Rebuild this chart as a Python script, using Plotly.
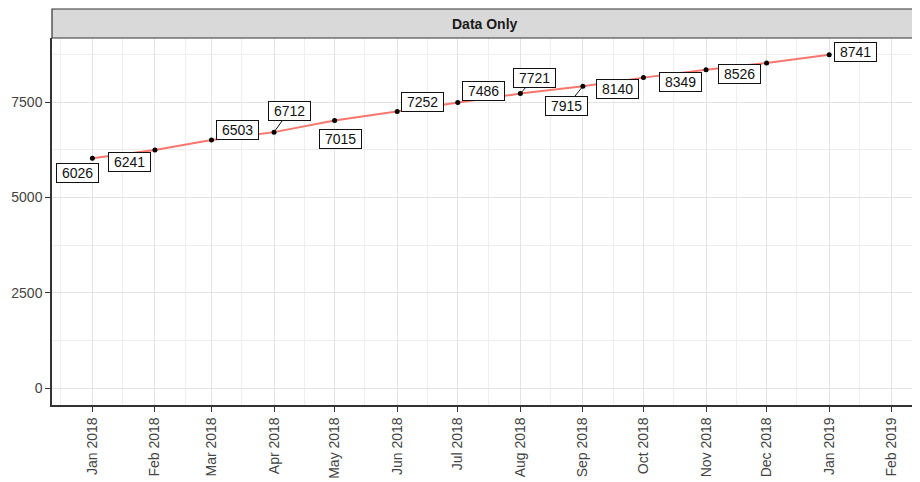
import plotly.graph_objects as go

dates = ["2018-01-01", "2018-02-01", "2018-03-01", "2018-04-01", "2018-05-01",
         "2018-06-01", "2018-07-01", "2018-08-01", "2018-09-01", "2018-10-01",
         "2018-11-01", "2018-12-01", "2019-01-01"]
values = [6026, 6241, 6503, 6712, 7015, 7252, 7486, 7721, 7915, 8140, 8349, 8526, 8741]

tick_dates = ["2018-01-01", "2018-02-01", "2018-03-01", "2018-04-01", "2018-05-01",
              "2018-06-01", "2018-07-01", "2018-08-01", "2018-09-01", "2018-10-01",
              "2018-11-01", "2018-12-01", "2019-01-01", "2019-02-01"]
tick_labels = ["Jan 2018", "Feb 2018", "Mar 2018", "Apr 2018", "May 2018", "Jun 2018",
               "Jul 2018", "Aug 2018", "Sep 2018", "Oct 2018", "Nov 2018", "Dec 2018",
               "Jan 2019", "Feb 2019"]
y_ticks = [0, 2500, 5000, 7500]
panel_title = "Data Only"

# label placement (pixel offsets from each point; ggrepel-style), and whether a segment is drawn
label_offsets = [(-15, 15), (-25, 12), (26, -10), (15, -21), (6, 18), (25, -10),
                 (26, -12), (14, -16), (-16, 20), (-26, 11), (-26, 12), (-27, 11), (26, -3)]
label_segment = [False, False, False, True, False, False, False, True, True,
                 False, False, False, False]

FONT = "Liberation Sans, Arial, sans-serif"
NB = "\u00a0"

fig = go.Figure()
fig.add_trace(go.Scatter(x=dates, y=values, mode="lines",
                         line=dict(color="#F8766D", width=2), hoverinfo="skip",
                         showlegend=False))
fig.add_trace(go.Scatter(x=dates, y=values, mode="markers",
                         marker=dict(color="black", size=5), showlegend=False))

for d, v, (dx, dy), seg in zip(dates, values, label_offsets, label_segment):
    common = dict(x=d, y=v, xref="x", yref="y", text=NB + str(v) + NB,
                  font=dict(family=FONT, size=14, color="#111111"),
                  bgcolor="white", bordercolor="#111111", borderwidth=1, borderpad=1)
    if seg:
        fig.add_annotation(**common, showarrow=True, arrowhead=0, arrowwidth=1,
                           arrowcolor="#111111", ax=dx, ay=dy, standoff=2)
    else:
        fig.add_annotation(**common, showarrow=False, xshift=dx, yshift=-dy)

# facet strip
fig.add_shape(type="rect", xref="paper", yref="paper", x0=0, x1=1.003, y0=1, y1=1.079,
              fillcolor="#D9D9D9", line=dict(color="#333333", width=1.2))
fig.add_annotation(xref="paper", yref="paper", x=0.5, y=1.0395, yanchor="middle",
                   xanchor="center", text="<b>" + panel_title + "</b>",
                   showarrow=False, font=dict(family=FONT, size=14, color="#1A1A1A"))

fig.update_xaxes(type="date", range=["2017-12-12", "2019-02-14"],
                 tickmode="array", tickvals=tick_dates, ticktext=tick_labels,
                 tickangle=-90, tickfont=dict(family=FONT, size=14, color="#444444"),
                 ticks="outside", ticklen=5, tickcolor="#333333",
                 showline=True, linecolor="#333333", linewidth=1.5,
                 showgrid=True, gridcolor="#E3E3E3", gridwidth=1,
                 minor=dict(dtick="M1", tick0="2017-12-16", showgrid=True,
                            gridcolor="#EEEEEE", gridwidth=1),
                 zeroline=False)
fig.update_yaxes(range=[-437, 9178], tickmode="array", tickvals=y_ticks,
                 tickfont=dict(family=FONT, size=14, color="#444444"),
                 ticks="outside", ticklen=5, tickcolor="#333333",
                 showline=True, linecolor="#333333", linewidth=1.5,
                 showgrid=True, gridcolor="#E3E3E3", gridwidth=1,
                 minor=dict(tickvals=[1250, 3750, 6250, 8750], showgrid=True,
                            gridcolor="#EEEEEE", gridwidth=1),
                 zeroline=False)

fig.update_layout(width=912, height=474, plot_bgcolor="white", paper_bgcolor="white",
                  margin=dict(l=44, r=2, t=30, b=77, autoexpand=False), showlegend=False,
                  font=dict(family=FONT))

fig.write_html("out.html")
